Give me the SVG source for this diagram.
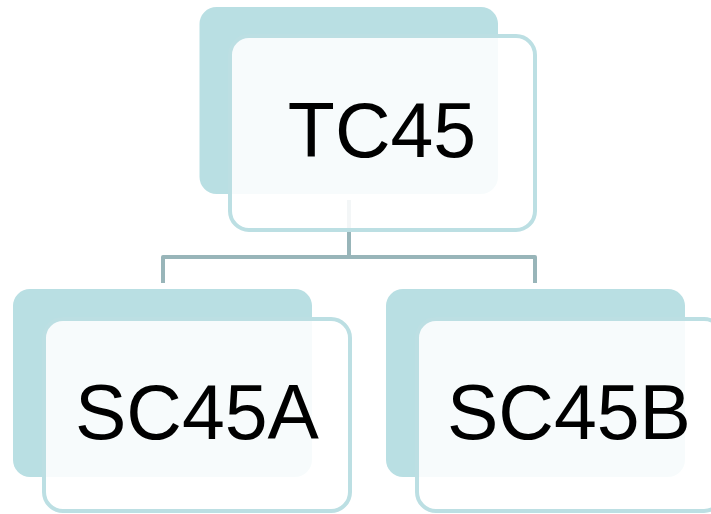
<svg xmlns="http://www.w3.org/2000/svg" width="711" height="514" viewBox="0 0 711 514">
<style>
.back{fill:#b9dfe3;}
.front{fill:#ffffff;fill-opacity:0.88;stroke:#bcdfe3;stroke-width:4;}
.lbl{font-family:"Liberation Sans",Arial,sans-serif;font-size:77px;fill:#000;text-anchor:middle;}
.conn{fill:none;stroke:#98b5b9;stroke-width:4;stroke-linejoin:round;}
</style>
<rect width="711" height="514" fill="#ffffff"/>
<g id="connectors">
<path class="conn" d="M349,200 V257 M163,283 V257 H535 V283"/>
</g>
<g id="node-tc45">
<rect class="back" x="199.5" y="7" width="298.5" height="187" rx="17"/>
<rect class="front" x="230" y="36" width="305" height="194" rx="19"/>
<text class="lbl" x="382" y="157">TC45</text>
</g>
<g id="node-sc45a">
<rect class="back" x="13" y="289" width="299" height="188" rx="17"/>
<rect class="front" x="44" y="319" width="306" height="192" rx="19"/>
<text class="lbl" x="197" y="439">SC45A</text>
</g>
<g id="node-sc45b">
<rect class="back" x="386" y="289" width="299" height="188" rx="17"/>
<rect class="front" x="417" y="319" width="306" height="192" rx="19"/>
<text class="lbl" x="569" y="439">SC45B</text>
</g>
</svg>
